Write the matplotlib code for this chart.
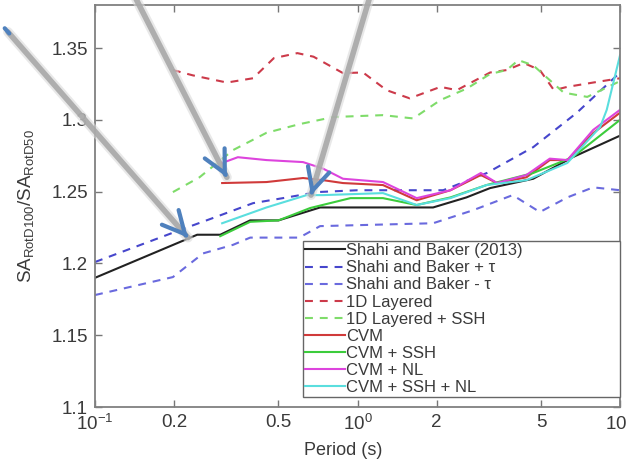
import numpy as np
import matplotlib
matplotlib.use("Agg")
import matplotlib.pyplot as plt
from matplotlib.ticker import NullLocator

plt.rcParams['font.family'] = ['Liberation Sans', 'DejaVu Sans']
plt.rcParams['mathtext.default'] = 'regular'

# --- data ---
sb_T = [0.1, 0.245, 0.3, 0.39, 0.5, 0.72, 1.0, 1.94, 2.6, 3.2, 4.67, 6.6, 10]
sb_ratio = [1.19, 1.22, 1.22, 1.23, 1.23, 1.239, 1.239, 1.239, 1.246, 1.2525, 1.259, 1.274, 1.289]

sb_plus_T = [0.1, 0.211, 0.281, 0.40, 0.54, 0.70, 1.0, 2.12, 3.11, 4.67, 6.85, 10]
sb_plus = [1.201, 1.2233, 1.2316, 1.242, 1.246, 1.2497, 1.251, 1.251, 1.263, 1.281, 1.305, 1.333]

sb_minus_T = [0.1, 0.198, 0.258, 0.336, 0.39, 0.6, 0.72, 1.94, 2.75, 3.9, 4.95, 6.3, 7.9, 10]
sb_minus = [1.178, 1.1905, 1.207, 1.213, 1.218, 1.218, 1.226, 1.228, 1.237, 1.2476, 1.2358, 1.246, 1.253, 1.251]

layered_T = [0.198, 0.236, 0.318, 0.40, 0.48, 0.59, 0.68, 0.88, 1.05, 1.29, 1.58, 2.07, 2.39,
             3.2, 3.7, 4.3, 4.95, 5.6, 6.3, 7.9, 10]
layered = [1.3347, 1.331, 1.326, 1.329, 1.343, 1.3465, 1.344, 1.3326, 1.333, 1.3207, 1.315, 1.323,
           1.3207, 1.333, 1.3347, 1.3396, 1.3347, 1.3207, 1.323, 1.326, 1.329]

layered_ssh_T = [0.198, 0.25, 0.336, 0.45, 0.60, 0.81, 1.25, 1.63, 2.07, 2.62, 3.2, 3.7, 4.1,
                 4.67, 6.1, 7.5, 10]
layered_ssh = [1.2497, 1.260, 1.279, 1.291, 1.297, 1.302, 1.3033, 1.301, 1.3138, 1.322, 1.332,
               1.3347, 1.3416, 1.338, 1.319, 1.316, 1.327]

cvm_T = [0.305, 0.45, 0.62, 0.74, 0.88, 1.25, 1.58, 1.68, 2.26, 2.95, 3.4, 4.4, 5.4, 6.3, 7.9, 10]
cvm = [1.256, 1.2567, 1.2595, 1.258, 1.256, 1.2546, 1.2462, 1.244, 1.251, 1.2616, 1.256, 1.260,
       1.272, 1.272, 1.2908, 1.305]

cvm_ssh_T = [0.3, 0.39, 0.5, 0.66, 0.94, 1.25, 1.68, 2.26, 3.1, 4.67, 6.6, 10]
cvm_ssh = [1.219, 1.229, 1.230, 1.2386, 1.2455, 1.2455, 1.2407, 1.246, 1.2546, 1.263, 1.274, 1.30]

cvm_nl_T = [0.305, 0.35, 0.45, 0.62, 0.74, 0.88, 1.25, 1.68, 2.26, 2.95, 3.4, 4.4, 5.4, 6.3, 7.9, 10]
cvm_nl = [1.27, 1.274, 1.272, 1.2706, 1.266, 1.259, 1.2567, 1.2455, 1.251, 1.263, 1.256, 1.2616,
          1.273, 1.272, 1.293, 1.307]

cvm_ssh_nl_T = [0.305, 0.45, 0.64, 0.74, 1.25, 1.68, 2.26, 3.1, 4.4, 6.3, 8.4, 8.9, 10]
cvm_ssh_nl = [1.228, 1.239, 1.2476, 1.2476, 1.249, 1.2407, 1.2455, 1.2546, 1.258, 1.27, 1.295,
              1.307, 1.345]

xticks = [0.1, 0.2, 0.5, 1, 2, 5, 10]
xtick_labels = ['$10^{-1}$', '0.2', '0.5', '$10^{0}$', '2', '5', '$10^{1}$']
yticks = [1.1, 1.15, 1.2, 1.25, 1.3, 1.35]
ytick_labels = ['1.1', '1.15', '1.2', '1.25', '1.3', '1.35']

# annotation arrows (tips point at curves, tails outside the axes in figure pixels)
arrow_tips = [(0.226, 1.218), (0.318, 1.260), (0.665, 1.2476)]
arrow_tails = [(8, 429), (133, 468), (371, 468)]

fig = plt.figure(figsize=(6.28, 4.61), dpi=100)
ax = fig.add_axes([0.1513, 0.1171, 0.836, 0.872])

dash = (3.8, 3.3)
lw = 1.5
ax.plot(sb_T, sb_ratio, color='#222222', lw=lw, label='Shahi and Baker (2013)')
ax.plot(sb_plus_T, sb_plus, color='#4646cc', lw=lw, dashes=dash, label='Shahi and Baker + τ')
ax.plot(sb_minus_T, sb_minus, color='#6a6ade', lw=lw, dashes=dash, label='Shahi and Baker - τ')
ax.plot(layered_T, layered, color='#cc3a4a', lw=lw, dashes=dash, label='1D Layered')
ax.plot(layered_ssh_T, layered_ssh, color='#7fdc6a', lw=lw, dashes=dash, label='1D Layered + SSH')
ax.plot(cvm_T, cvm, color='#d03a3a', lw=lw, label='CVM')
ax.plot(cvm_ssh_T, cvm_ssh, color='#3ccc3c', lw=lw, label='CVM + SSH')
ax.plot(cvm_nl_T, cvm_nl, color='#dd44dd', lw=lw, label='CVM + NL')
ax.plot(cvm_ssh_nl_T, cvm_ssh_nl, color='#5adede', lw=lw, label='CVM + SSH + NL')

ax.set_xscale('log')
ax.set_xlim(0.1, 10)
ax.set_ylim(1.1, 1.38)
ax.set_xticks(xticks, labels=xtick_labels)
ax.xaxis.set_minor_locator(NullLocator())
ax.set_yticks(yticks, labels=ytick_labels)
ax.tick_params(direction='in', top=True, right=True, length=5, width=1, color='#777777',
               labelsize=13.5, labelcolor='#3a3a3a', pad=5)
for s in ax.spines.values():
    s.set_color('#808080')
    s.set_linewidth(1.3)

ax.set_xlabel('Period (s)', fontsize=13, color='#3a3a3a')
ax.xaxis.set_label_coords(0.472, -0.088)
ax.set_ylabel(r'SA$_{RotD100}$/SA$_{RotD50}$', fontsize=13.5, color='#3a3a3a')
ax.yaxis.set_label_coords(-0.112, 0.5)

leg = ax.legend(loc='lower left', bbox_to_anchor=(0.396, 0.025, 0.604, 0.39), mode='expand',
                borderaxespad=0, fontsize=12, handlelength=2.4, handletextpad=0.05,
                labelspacing=0.125, borderpad=0.12, fancybox=False, framealpha=1)
leg.get_frame().set_edgecolor('#666666')
leg.get_frame().set_linewidth(1.0)
for t in leg.get_texts():
    t.set_color('#3a3a3a')

# gray pointer lines with blue open arrowheads
for tip, tail in zip(arrow_tips, arrow_tails):
    tip_px = ax.transData.transform(tip)
    tail_px = np.array(tail, dtype=float)
    for w, c, a in [(7, '#dadada', 0.6), (4, '#a8a8a8', 0.9)]:
        ax.annotate('', xy=tip_px, xycoords='figure pixels', xytext=tail_px,
                    textcoords='figure pixels', annotation_clip=False,
                    arrowprops=dict(arrowstyle='-', color=c, lw=w, alpha=a,
                                    shrinkA=0, shrinkB=0))
    u = (tip_px - tail_px) / np.hypot(*(tip_px - tail_px))
    ax.annotate('', xy=tip_px, xycoords='figure pixels', xytext=tip_px - 3 * u,
                textcoords='figure pixels', annotation_clip=False,
                arrowprops=dict(arrowstyle='->,head_length=1.0,head_width=0.5',
                                mutation_scale=16, color='#4f81bd', lw=3,
                                shrinkA=0, shrinkB=0))

# small blue mark at the start of the left pointer
t0 = np.array(arrow_tails[0], dtype=float)
d0 = ax.transData.transform(arrow_tips[0]) - t0
d0 = d0 / np.hypot(*d0)
ax.annotate('', xy=t0 + 2 * d0, xycoords='figure pixels', xytext=t0 - 5 * d0,
            textcoords='figure pixels', annotation_clip=False,
            arrowprops=dict(arrowstyle='-', color='#4f81bd', lw=3, shrinkA=0, shrinkB=0))

fig.savefig('out.png', dpi=100)
